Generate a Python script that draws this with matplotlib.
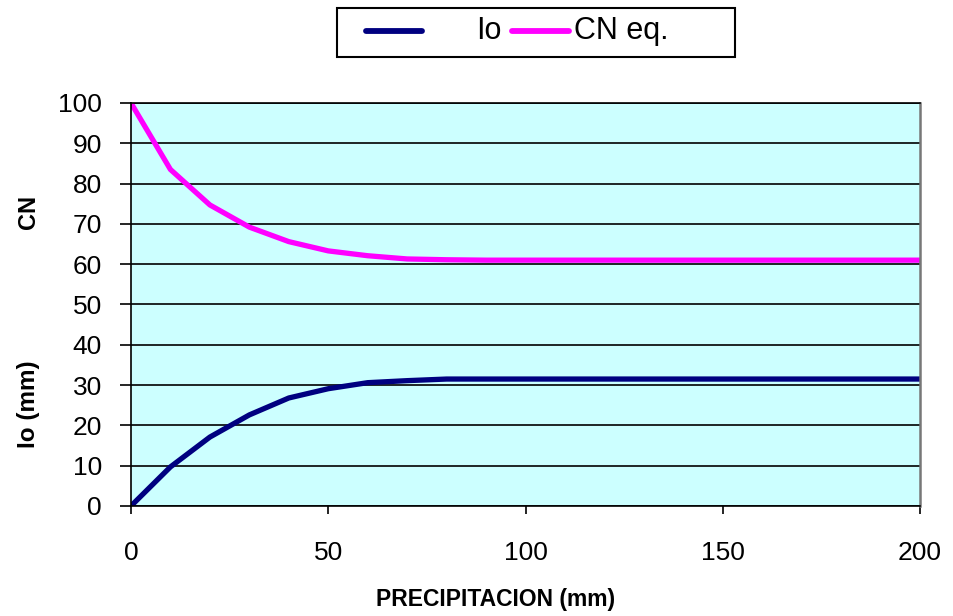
import matplotlib.pyplot as plt
from matplotlib.lines import Line2D
from matplotlib.patches import Rectangle
import numpy as np

plt.rcParams['font.family'] = ['Liberation Sans', 'DejaVu Sans']

# precipitation (mm)
p = np.arange(0, 201, 10)
# initial abstraction Io (mm)
io = [0, 9.7, 17.1, 22.6, 26.8, 29.1, 30.6, 31.1, 31.5, 31.5, 31.5,
      31.5, 31.5, 31.5, 31.5, 31.5, 31.5, 31.5, 31.5, 31.5, 31.5]
# equivalent curve number
cn = [100, 83.5, 74.7, 69.2, 65.6, 63.3, 62.1, 61.3, 61.1, 61.0, 61.0,
      61.0, 61.0, 61.0, 61.0, 61.0, 61.0, 61.0, 61.0, 61.0, 61.0]

fig = plt.figure(figsize=(9.54, 6.16), dpi=100)
ax = fig.add_axes([0.1373, 0.1786, 0.8271, 0.6542])
ax.set_facecolor('#CCFFFF')

l1, = ax.plot(p, io, color='#000080', lw=3.8, label='Io', solid_capstyle='round')
l2, = ax.plot(p, cn, color='#FF00FF', lw=3.8, label='CN eq.', solid_capstyle='round')

ax.set_xlim(0, 200)
ax.set_ylim(0, 100)
ax.set_xticks([0, 50, 100, 150, 200])
ax.set_yticks(np.arange(0, 101, 10))
ax.yaxis.grid(True, color='black', lw=1.2)
ax.set_axisbelow(True)
ax.tick_params(labelsize=19, direction='out', width=1.2)
ax.tick_params(axis='x', length=6, pad=19)
ax.tick_params(axis='y', length=8, pad=13)
for s in ax.spines.values():
    s.set_color('black')
    s.set_linewidth(1.2)
ax.spines['right'].set_color('#777777')
ax.spines['right'].set_linewidth(1.8)

fig.text(0.519, 0.026, 'PRECIPITACION (mm)', fontsize=16.5, fontweight='bold',
         ha='center', va='center')
fig.text(0.030, 0.656, 'CN', rotation=90, fontsize=17, fontweight='bold',
         ha='center', va='center')
fig.text(0.030, 0.344, 'Io (mm)', rotation=90, fontsize=17.5, fontweight='bold',
         ha='center', va='center')

# legend box drawn like the spreadsheet one
fig.add_artist(Rectangle((0.3533, 0.9075), 0.4172, 0.0795, transform=fig.transFigure,
                         facecolor='white', edgecolor='black', lw=1.5))
ly = 0.9497
fig.add_artist(Line2D([0.3836, 0.4424], [ly, ly], transform=fig.transFigure,
                      color=l1.get_color(), lw=4.2, solid_capstyle='round'))
fig.text(0.4990, ly, l1.get_label(), fontsize=22, ha='left', va='center')
fig.add_artist(Line2D([0.5367, 0.5964], [ly, ly], transform=fig.transFigure,
                      color=l2.get_color(), lw=4.2, solid_capstyle='round'))
fig.text(0.6020, ly, l2.get_label(), fontsize=22, ha='left', va='center')

fig.savefig('out.png', dpi=100)
